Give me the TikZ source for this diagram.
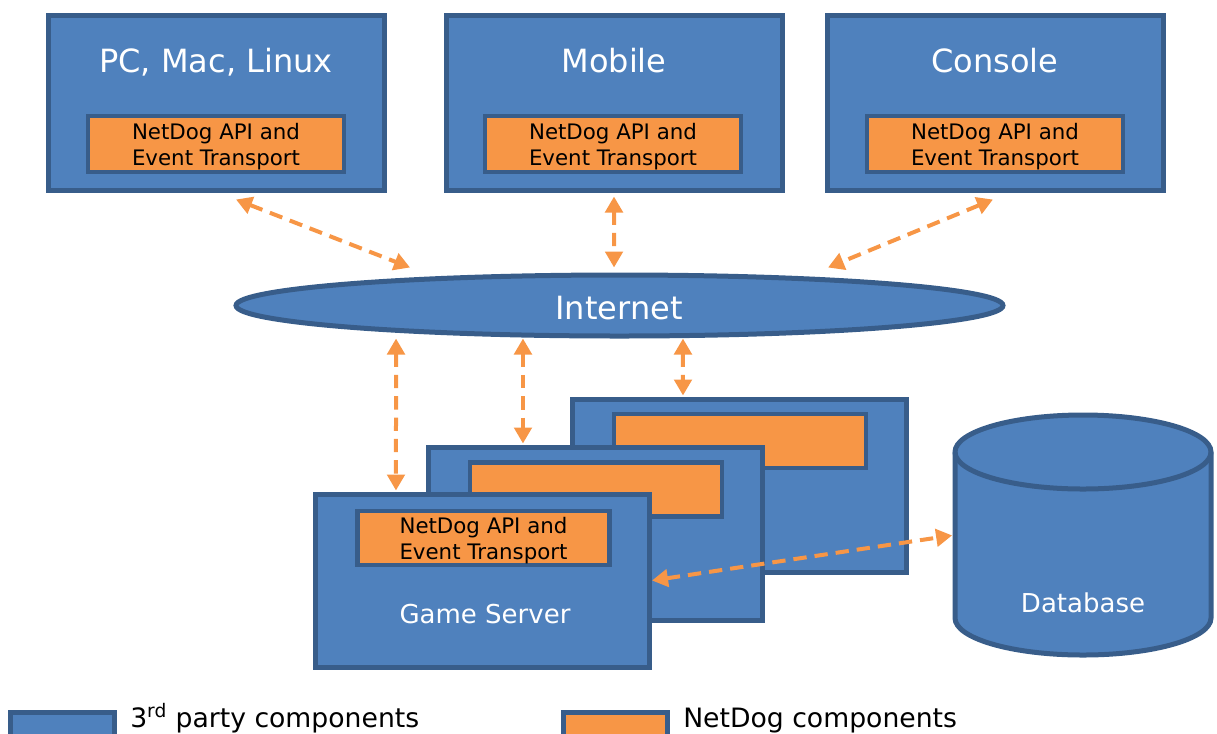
\documentclass[tikz,border=0pt]{standalone}
\usepackage{fontspec}
\setmainfont{DejaVu Sans}
\usetikzlibrary{arrows.meta,shapes.geometric}
\definecolor{bfill}{HTML}{4F81BD}
\definecolor{bline}{HTML}{385D8A}
\definecolor{ofill}{HTML}{F79646}
\begin{document}
\begin{tikzpicture}[x=0.75pt,y=-0.75pt,
 comp/.style={draw=bline,fill=bfill,line width=3.75pt,inner sep=0pt,minimum width=252pt,minimum height=131.25pt},
 nd/.style={draw=bline,fill=ofill,line width=3.5pt,inner sep=0pt,minimum width=192pt,minimum height=42pt},
 ndtext/.style={inner sep=0pt,align=center,font=\fontsize{16}{19.5}\selectfont,text=black},
 srv/.style={comp,minimum width=250.5pt,minimum height=129.75pt},
 srvnd/.style={nd,minimum width=189pt,minimum height=40.5pt},
 title/.style={text=white,font=\fontsize{24}{28}\selectfont,anchor=base,inner sep=0pt},
 lbl/.style={text=white,font=\fontsize{19.5}{24}\selectfont,anchor=base,inner sep=0pt},
 legbox/.style={draw=bline,line width=3.75pt,minimum width=78pt,minimum height=18pt,inner sep=0pt},
 legtext/.style={anchor=base west,inner sep=0pt,font=\fontsize{20}{24}\selectfont,text=black},
 link/.style={draw=ofill,line width=3pt,dash pattern=on 10pt off 6pt,{Triangle[length=12pt,width=13pt]}-{Triangle[length=12pt,width=13pt]}},
]
\useasboundingbox (0,0) rectangle (1217,733);
\clip (0,0) rectangle (1217,733);

% top platforms
\node[comp] (pc) at (216,102.5) {};
\node[title] (pct) at (216,72) {PC, Mac, Linux};
\node[nd] (pcn) at (216,144) {};
\node[ndtext] (pcnt) at (216,147) {NetDog API and\\Event Transport};

\node[comp] (mob) at (614,102.5) {};
\node[title] (mobt) at (614,72) {Mobile};
\node[nd] (mobn) at (613,144) {};
\node[ndtext] (mobnt) at (613,147) {NetDog API and\\Event Transport};

\node[comp] (con) at (995.5,102.5) {};
\node[title] (cont) at (995,72) {Console};
\node[nd] (conn) at (995,144) {};
\node[ndtext] (connt) at (995,147) {NetDog API and\\Event Transport};

% internet
\node[ellipse,draw=bline,fill=bfill,line width=3.75pt,minimum width=575.25pt,minimum height=45.75pt,inner sep=0pt] (inet) at (619.5,305.5) {};
\node[title] (inett) at (619,319) {Internet};

% servers
\node[srv] (srvB) at (739,485.5) {};
\node[srvnd] (ndB) at (740,441) {};
\node[srv] (srvM) at (595.5,533.5) {};
\node[srvnd] (ndM) at (596,489.5) {};
\node[srv] (srvF) at (482.5,580.5) {};
\node[srvnd] (ndF) at (483.5,538) {};
\node[ndtext] (ndFt) at (483.5,541) {NetDog API and\\Event Transport};
\node[lbl] (srvt) at (485,623) {Game Server};

% database
\draw[draw=bline,fill=bfill,line width=3.75pt] (955,452) -- (955,618)
  arc[start angle=180,end angle=360,x radius=96pt,y radius=27.75pt] -- (1211,452)
  arc[start angle=0,end angle=180,x radius=96pt,y radius=27.75pt] -- cycle;
\draw[draw=bline,line width=3.75pt] (955,452) arc[start angle=180,end angle=360,x radius=96pt,y radius=27.75pt];
\node[inner sep=0pt,minimum width=192pt,minimum height=100pt] (db) at (1083,535) {};
\node[lbl] (dbt) at (1083,612) {Database};

% legend
\node[legbox,fill=bfill] (lg1) at (62,724) {};
\node[legtext] (lt1) at (130,727.5) {3\textsuperscript{rd} party components};
\node[legbox,fill=ofill] (lg2) at (615,724) {};
\node[legtext] (lt2) at (683,727.5) {NetDog components};

% connectors
\draw[link] ([xshift=15pt,yshift=-5.25pt]pc.south) -- ([xshift=-157.1pt,yshift=3.75pt]inet.north);
\draw[link] ([yshift=-3pt]mob.south) -- ([xshift=-4.1pt,yshift=3.75pt]inet.north);
\draw[link] ([xshift=-1.9pt,yshift=-5.25pt]con.south) -- ([xshift=156.4pt,yshift=3.75pt]inet.north);
\draw[link] ([xshift=-167.6pt]inet.south) -- ([xshift=-64.9pt,yshift=0.75pt]srvF.north);
\draw[link] ([xshift=-72.4pt]inet.south) -- ([xshift=-54.4pt,yshift=0.75pt]srvM.north);
\draw[link] ([xshift=47.6pt]inet.south) -- ([xshift=-42pt,yshift=0.75pt]srvB.north);
\draw[link,shorten >=2pt] (srvF.east) -- (db.west);
\end{tikzpicture}
\end{document}
